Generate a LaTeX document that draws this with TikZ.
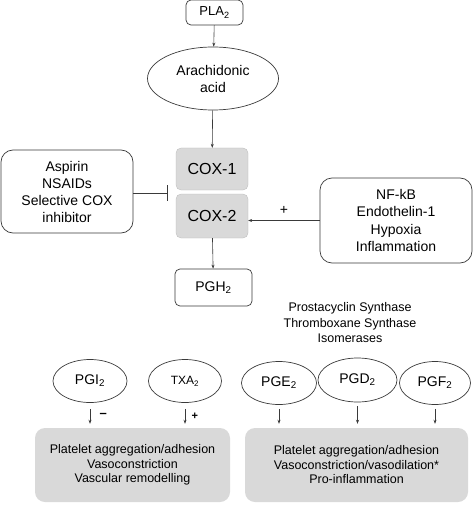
\documentclass[tikz,border=0pt]{standalone}
\usepackage{fontspec}
\setmainfont{Liberation Sans}
\usetikzlibrary{arrows.meta,shapes.geometric}
\definecolor{boxgray}{HTML}{D9D9D9}
\definecolor{linegray}{HTML}{3A3A3A}
\tikzset{
  rbox/.style={draw=linegray, line width=0.7pt, rounded corners=5pt, align=center, inner sep=0pt},
  oval/.style={draw=linegray, line width=0.7pt, ellipse, inner sep=0pt, align=center},
  coxbox/.style={fill=boxgray, draw=boxgray!85!black, line width=0.3pt, rounded corners=5pt, inner sep=0pt, font=\fontsize{16}{18}\selectfont},
  effbox/.style={fill=boxgray, rounded corners=10pt, inner sep=0pt, align=center, font=\fontsize{12.5}{14.5}\selectfont},
  arr/.style={draw=linegray, line width=0.6pt, -{Stealth[length=4pt,width=3pt]}},
}
\begin{document}
\begin{tikzpicture}[x=1pt,y=-1pt]
        \useasboundingbox (0,0) rectangle (474,505);
        \node[rbox, minimum width=57pt, minimum height=25pt, font=\fontsize{13}{15}\selectfont] (pla) at (214.5, 12.5) {PLA\textsubscript{2}};
        \node[oval, minimum width=131pt, minimum height=63pt, font=\fontsize{14}{17}\selectfont] (aa) at (213, 78.5) {Arachidonic\\acid};
        \node[coxbox, minimum width=72pt, minimum height=42pt] (cox1) at (212, 169) {COX-1};
        \node[coxbox, minimum width=72pt, minimum height=44pt] (cox2) at (212, 216) {COX-2};
        \node[rbox, rounded corners=12pt, minimum width=132pt, minimum height=83pt, font=\fontsize{14}{17}\selectfont] (inh) at (67, 191.5) {Aspirin\\NSAIDs\\Selective COX\\inhibitor};
        \node[rbox, rounded corners=12pt, minimum width=152pt, minimum height=85pt, font=\fontsize{14}{17.5}\selectfont] (nfkb) at (396, 220.5) {NF-kB\\Endothelin-1\\Hypoxia\\Inflammation};
        \node[rbox, minimum width=77pt, minimum height=37pt, font=\fontsize{14}{17}\selectfont] (pgh) at (213.5, 287.5) {PGH\textsubscript{2}};
        \node[align=center, font=\fontsize{12.5}{15.5}\selectfont] (enz) at (350, 323) {Prostacyclin Synthase\\Thromboxane Synthase\\Isomerases};

        \node[oval, minimum width=74pt, minimum height=43pt, font=\fontsize{14}{17}\selectfont] (pgi) at (90, 381) {PGI\textsubscript{2}};
        \node[oval, minimum width=73pt, minimum height=43pt, font=\fontsize{12}{14}\selectfont] (txa) at (185, 381) {TXA\textsubscript{2}};
        \node[oval, minimum width=75pt, minimum height=43pt, font=\fontsize{14}{17}\selectfont] (pge) at (279, 383) {PGE\textsubscript{2}};
        \node[oval, minimum width=79pt, minimum height=44pt, font=\fontsize{14}{17}\selectfont] (pgd) at (357.5, 380) {PGD\textsubscript{2}};
        \node[oval, minimum width=71pt, minimum height=43pt, font=\fontsize{14}{17}\selectfont] (pgf) at (435, 383) {PGF\textsubscript{2}};

        \node[effbox, minimum width=195pt, minimum height=74pt] (effL) at (132.5, 465) {Platelet aggregation/adhesion\\Vasoconstriction\\Vascular remodelling};
        \node[effbox, minimum width=223pt, minimum height=74pt] (effR) at (356.5, 465) {Platelet aggregation/adhesion\\Vasoconstriction/vasodilation*\\Pro-inflammation};

        \coordinate (block) at (168, 193);

        \draw[arr] (pla) -- (aa);
        \draw[arr] (aa) -- (cox1);
        \draw[arr] (cox2) -- (pgh);
        \draw[draw=linegray, line width=0.7pt, -{Bar[width=16pt]}] (inh.east |- block) -- (block);
        \draw[arr] (nfkb.west) -- (nfkb.west -| cox2.east) node[midway, above=2pt, font=\fontsize{14}{17}\selectfont] (plus1) {+};

        \draw[arr, shorten <=6pt, shorten >=4pt] (pgi.south) -- (pgi.south |- effL.north) node[midway, right=6pt, font=\fontsize{13}{15}\selectfont\bfseries] (minus) {--};
        \draw[arr, shorten <=6pt, shorten >=4pt] (txa.south) -- (txa.south |- effL.north) node[midway, right=3pt, yshift=-1pt, font=\fontsize{11}{13}\selectfont\bfseries] (plus2) {+};
        \draw[arr, shorten <=4pt, shorten >=4pt] (pge.south) -- (pge.south |- effR.north);
        \draw[arr, shorten <=4pt, shorten >=4pt] (pgd.south) -- (pgd.south |- effR.north);
        \draw[arr, shorten <=4pt, shorten >=4pt] (pgf.south) -- (pgf.south |- effR.north);
    \end{tikzpicture}
\end{document}
